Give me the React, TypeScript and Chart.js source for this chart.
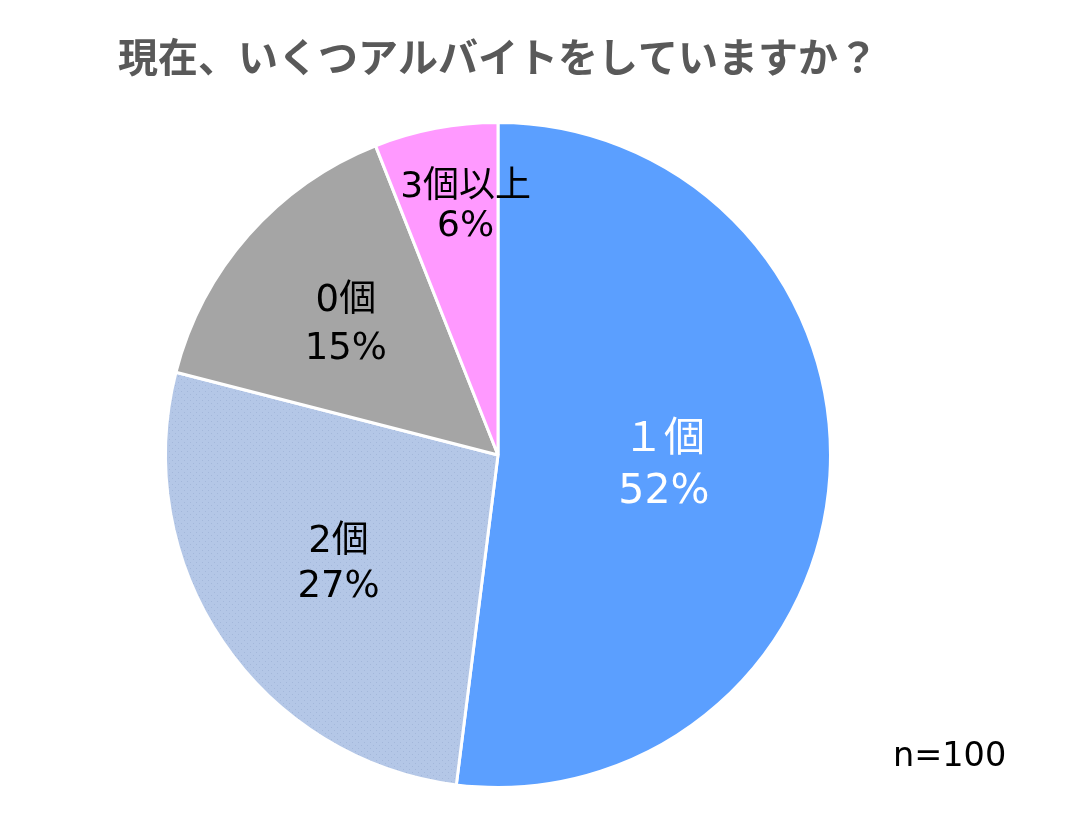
import React, { useEffect, useRef } from "react";
import { Chart, registerables } from "chart.js";

Chart.register(...registerables);

const title = "現在、いくつアルバイトをしていますか？";
const categories = ["１個", "2個", "0個", "3個以上"];
const values = [52, 27, 15, 6];
const sampleNote = "n=100";

const sliceColors = ["#5B9FFF", "#B4C7E7", "#A5A5A5", "#FF99FF"];
const labelColors = ["#FFFFFF", "#000000", "#000000", "#000000"];
const labelRadius = [0.5, 0.58, 0.61, 0.76];
const labelAngleShift = [0, 0, 0, 0.06];
const labelYShift = [1, 1, 5, 3];
const labelFontSize = [41, 37, 37, 36];
const labelLineGap = [52, 45, 48, 39];

function makePattern(base: string, dot: string): CanvasPattern | string {
  const c = document.createElement("canvas");
  c.width = 6;
  c.height = 6;
  const ctx = c.getContext("2d");
  if (!ctx) return base;
  ctx.fillStyle = base;
  ctx.fillRect(0, 0, 6, 6);
  ctx.fillStyle = dot;
  ctx.fillRect(1, 1, 1, 1);
  ctx.fillRect(4, 4, 1, 1);
  const p = ctx.createPattern(c, "repeat");
  return p || base;
}

const FONT = '"DejaVu Sans", "Noto Sans CJK JP", sans-serif';

const textPlugin = {
  id: "textPlugin",
  afterDatasetsDraw(chart: any) {
    const ctx = chart.ctx;
    const meta = chart.getDatasetMeta(0);
    ctx.save();
    meta.data.forEach((arc: any, i: number) => {
      const { x, y, startAngle, endAngle, outerRadius } = arc.getProps(
        ["x", "y", "startAngle", "endAngle", "outerRadius"],
        true
      );
      const mid = (startAngle + endAngle) / 2 + labelAngleShift[i];
      const r = outerRadius * labelRadius[i];
      const cx = x + Math.cos(mid) * r;
      const cy = y + Math.sin(mid) * r + labelYShift[i];
      ctx.fillStyle = labelColors[i];
      ctx.font = `${labelFontSize[i]}px ${FONT}`;
      ctx.textAlign = "center";
      ctx.textBaseline = "middle";
      const g = labelLineGap[i];
      ctx.fillText(categories[i], cx, cy - g / 2);
      ctx.fillText(values[i] + "%", cx, cy + g / 2);
    });
    // title
    ctx.fillStyle = "#595959";
    ctx.font = `bold 40px "Noto Sans CJK JP", sans-serif`;
    ctx.textAlign = "left";
    ctx.textBaseline = "middle";
    ctx.fillText(title, 118, 57);
    // sample note
    ctx.fillStyle = "#000000";
    ctx.font = `33.5px ${FONT}`;
    ctx.textAlign = "left";
    ctx.fillText(sampleNote, 893, 757);
    ctx.restore();
  },
};

export default function App() {
  const ref = useRef<HTMLCanvasElement>(null);
  useEffect(() => {
    if (!ref.current) return;
    const colors = sliceColors.map((c, i) =>
      i === 1 ? makePattern(c, "#A3B7DA") : c
    );
    const chart = new Chart(ref.current, {
      type: "pie",
      data: {
        labels: categories,
        datasets: [
          {
            data: values,
            backgroundColor: colors as any,
            borderColor: "#FFFFFF",
            borderWidth: 3,
            hoverOffset: 0,
            offset: 0,
          },
        ],
      },
      options: {
        animation: false,
        responsive: false,
        maintainAspectRatio: false,
        layout: { padding: { left: 164, right: 236, top: 121, bottom: 37 } },
        plugins: {
          legend: { display: false },
          tooltip: { enabled: false },
          title: { display: false },
        },
      },
      plugins: [textPlugin],
    });
    return () => chart.destroy();
  }, []);
  return (
    <div style={{ position: "fixed", left: 0, top: 0, width: 1068, height: 826, background: "#fff" }}>
      <canvas ref={ref} width={1068} height={826} style={{ width: 1068, height: 826 }} />
    </div>
  );
}
